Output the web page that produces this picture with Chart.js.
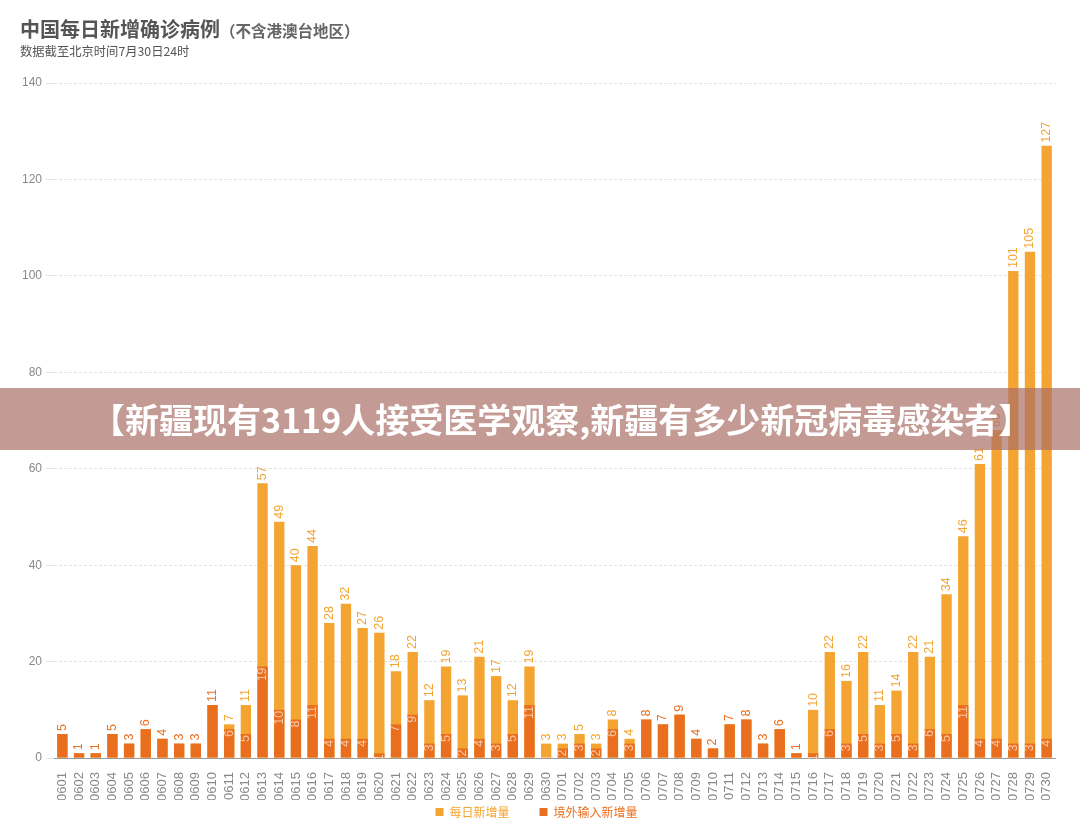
<!DOCTYPE html>
<html>
<head>
<meta charset="utf-8">
<script src="https://cdn.jsdelivr.net/npm/chart.js@4.4.0/dist/chart.umd.min.js"></script>
<style>
  html, body { margin: 0; padding: 0; background: #fff; width: 1080px; height: 838px; overflow: hidden; }
  body { font-family: "Noto Sans CJK SC", sans-serif; position: relative; }
  #chart-wrap { position: absolute; left: 0; top: 0; width: 1080px; height: 838px; }
  #title { position: absolute; left: 20px; top: 15px; color: #555; font-weight: 700; font-size: 20px; line-height: 28px; white-space: nowrap; }
  #title span { font-size: 15.5px; color: #666; }
  #sub { position: absolute; left: 20px; top: 43px; color: #555; font-size: 12.3px; line-height: 16px; white-space: nowrap; }
  #banner { position: absolute; left: 0; top: 388px; width: 1080px; height: 62px; background: rgba(171,111,102,0.7);
            color: #fff; font-weight: 700; font-size: 34px; line-height: 62px; white-space: nowrap; }
  #banner div { position: absolute; left: 91px; top: 0; }
</style>
</head>
<body>
<div id="chart-wrap"><canvas id="c"></canvas></div>
<div id="title">中国每日新增确诊病例<span>（不含港澳台地区）</span></div>
<div id="sub">数据截至北京时间7月30日24时</div>
<div id="banner"><div>【新疆现有3119人接受医学观察,新疆有多少新冠病毒感染者】</div></div>
<script>
const LIGHT = '#f4a431';
const DARK  = '#e96f1f';

const days = [
  '0601','0602','0603','0604','0605','0606','0607','0608','0609','0610',
  '0611','0612','0613','0614','0615','0616','0617','0618','0619','0620',
  '0621','0622','0623','0624','0625','0626','0627','0628','0629','0630',
  '0701','0702','0703','0704','0705','0706','0707','0708','0709','0710',
  '0711','0712','0713','0714','0715','0716','0717','0718','0719','0720',
  '0721','0722','0723','0724','0725','0726','0727','0728','0729','0730',
];

// 每日新增量
const totalCases = [
  5, 1, 1, 5, 3, 6, 4, 3, 3, 11,
  7, 11, 57, 49, 40, 44, 28, 32, 27, 26,
  18, 22, 12, 19, 13, 21, 17, 12, 19, 3,
  3, 5, 3, 8, 4, 8, 7, 9, 4, 2,
  7, 8, 3, 6, 1, 10, 22, 16, 22, 11,
  14, 22, 21, 34, 46, 61, 68, 101, 105, 127,
];

// 境外输入新增量
const importedCases = [
  5, 1, 1, 5, 3, 6, 4, 3, 3, 11,
  6, 5, 19, 10, 8, 11, 4, 4, 4, 1,
  7, 9, 3, 5, 2, 4, 3, 5, 11, 0,
  2, 3, 2, 6, 3, 8, 7, 9, 4, 2,
  7, 8, 3, 6, 1, 1, 6, 3, 5, 3,
  5, 3, 6, 5, 11, 4, 4, 3, 3, 4,
];

const yTicks = [0, 20, 40, 60, 80, 100, 120, 140];

const NUM_FONT = '"Liberation Sans", Arial, sans-serif';

// value labels, rotated like the x ticks
const barLabels = {
  id: 'barLabels',
  afterDatasetsDraw(chart) {
    const ctx = chart.ctx;
    const tot = chart.getDatasetMeta(0).data;
    const imp = chart.getDatasetMeta(1).data;
    ctx.save();
    ctx.font = '12.5px ' + NUM_FONT;
    ctx.textBaseline = 'middle';
    totalCases.forEach((v, i) => {
      const t = tot[i], m = imp[i];
      const allImported = v === importedCases[i];
      ctx.save();
      ctx.translate(t.x, t.y - 3);
      ctx.rotate(-Math.PI / 2);
      ctx.textAlign = 'left';
      ctx.fillStyle = allImported ? DARK : LIGHT;
      ctx.fillText(String(v), 0, 0);
      ctx.restore();

      if (!allImported && importedCases[i] > 0) {
        ctx.save();
        ctx.translate(m.x, m.y + 1);
        ctx.rotate(-Math.PI / 2);
        ctx.textAlign = 'right';
        ctx.fillStyle = 'rgba(255,235,220,0.7)';
        ctx.fillText(String(importedCases[i]), 0, 0);
        ctx.restore();
      }
    });
    ctx.restore();
  },
};

new Chart(document.getElementById('c'), {
  type: 'bar',
  data: {
    labels: days,
    datasets: [
      {
        label: '每日新增量',
        data: totalCases,
        backgroundColor: LIGHT,
        grouped: false,
        order: 2,
        barPercentage: 0.62,
        categoryPercentage: 1,
      },
      {
        label: '境外输入新增量',
        data: importedCases,
        backgroundColor: DARK,
        grouped: false,
        order: 1,
        barPercentage: 0.62,
        categoryPercentage: 1,
      },
    ],
  },
  options: {
    responsive: true,
    maintainAspectRatio: false,
    animation: false,
    layout: { padding: { top: 83, left: 18, right: 25, bottom: 10 } },
    plugins: {
      tooltip: { enabled: false },
      legend: {
        position: 'bottom',
        labels: {
          boxWidth: 8,
          boxHeight: 8,
          padding: 6,
          font: { family: '"Noto Sans CJK SC", sans-serif', size: 12 },
          sort: (a, b) => a.datasetIndex - b.datasetIndex,
          generateLabels: (chart) =>
            Chart.defaults.plugins.legend.labels.generateLabels(chart).map((it) => ({
              ...it,
              text: it.datasetIndex === 0 ? it.text + '\u3000\u3000' : it.text,
              fontColor: it.fillStyle,
              lineWidth: 0,
            })),
        },
      },
    },
    scales: {
      x: {
        grid: { display: false },
        border: { display: true, color: '#999' },
        afterFit: (scale) => { scale.height -= 7; },
        ticks: {
          autoSkip: false,
          minRotation: 90,
          maxRotation: 90,
          color: '#888',
          font: { family: NUM_FONT, size: 13 },
          padding: 6,
        },
      },
      y: {
        min: 0,
        max: 140,
        afterBuildTicks: (axis) => { axis.ticks = yTicks.map((v) => ({ value: v })); },
        grid: { color: '#e4e4e4', tickLength: 8, tickColor: '#e4e4e4' },
        border: { display: false, dash: [3, 2] },
        ticks: {
          color: '#888',
          font: { family: NUM_FONT, size: 12 },
          padding: 4,
        },
      },
    },
  },
  plugins: [barLabels],
});
</script>
</body>
</html>
